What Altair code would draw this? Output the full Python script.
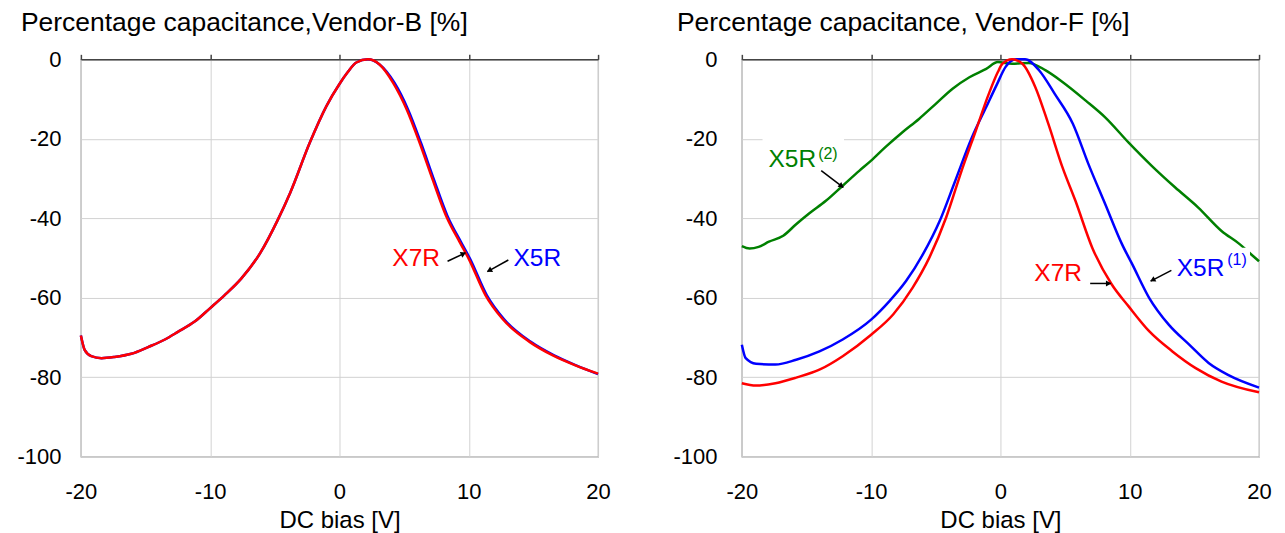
import math
import altair as alt
import pandas as pd

FONT = "Liberation Sans"

# ---------------- data: Vendor-B (left) ----------------
b_x7r_v = [-20, -19.7, -19.2, -18.4, -17.4, -16.1, -14.8, -13.5, -12.5, -11.2, -10.0, -8.9, -7.6,
           -6.1, -4.8, -3.8, -2.3, -1.0, 0.0, 0.6, 1.3, 2.2, 3.1, 4.15, 5.2, 6.2, 7.2, 8.25, 9.3,
           10.0, 11.3, 12.6, 14.7, 16.5, 18.25, 20.0]
b_x7r_c = [-69.5, -73.2, -74.7, -75.2, -74.9, -74.1, -72.4, -70.5, -68.6, -66.0, -62.6, -59.4, -55.2,
           -48.6, -40.6, -33.5, -21.0, -11.7, -6.2, -3.4, -0.8, 0.0, -1.3, -5.9, -12.6, -21.0, -30.2,
           -39.4, -46.0, -50.2, -59.4, -65.3, -71.1, -74.5, -77.0, -79.1]
b_x5r_v = [-20, -19.7, -19.2, -18.4, -17.4, -16.1, -14.8, -13.5, -12.5, -11.2, -10.0, -8.9, -7.6,
           -6.1, -4.8, -3.8, -2.3, -1.0, 0.0, 0.6, 1.3, 2.2, 3.1, 4.25, 5.3, 6.3, 7.3, 8.35, 9.4,
           10.1, 11.4, 12.7, 14.8, 16.6, 18.3, 20.0]
b_x5r_c = [-69.5, -73.2, -74.7, -75.2, -74.9, -74.1, -72.4, -70.5, -68.6, -66.0, -62.6, -59.4, -55.2,
           -48.6, -40.6, -33.5, -21.0, -11.7, -6.2, -3.4, -0.8, 0.0, -1.3, -5.9, -12.6, -21.0, -30.2,
           -39.4, -46.0, -50.2, -59.4, -65.3, -71.1, -74.5, -77.0, -79.2]

# ---------------- data: Vendor-F (right) ----------------
f_x5r1_v = [-20, -19.7, -18.9, -17.4, -15.8, -14.0, -12.2, -10.0, -8.6, -7.3, -6.0, -4.7, -3.5, -2.2,
            -1.1, -0.3, 0.4, 1.2, 1.9, 3.0, 4.2, 5.6, 6.8, 8.1, 9.4, 10.2, 11.5, 13.0, 14.6, 16.1,
            17.6, 20.0]
f_x5r1_c = [-71.8, -75.2, -76.6, -76.8, -75.6, -73.5, -70.5, -65.5, -60.9, -55.8, -49.1, -40.7, -30.6,
            -19.6, -12.0, -6.5, -1.9, 0.0, 0.0, -2.8, -8.7, -16.2, -26.3, -36.4, -46.5, -51.6, -60.0,
            -66.7, -71.8, -76.4, -79.4, -82.6]
f_x7r_v = [-20, -18.9, -17.4, -15.8, -14.0, -12.2, -10.0, -8.3, -6.8, -5.5, -4.2, -3.0, -1.9, -0.9,
           -0.2, 0.15, 0.9, 1.7, 2.7, 3.7, 4.8, 5.8, 7.1, 8.6, 9.9, 11.5, 13.3, 15.1, 17.1, 20.0]
f_x7r_c = [-81.5, -82.1, -81.5, -80.1, -78.1, -74.7, -69.3, -64.2, -57.5, -49.9, -39.8, -28.0, -17.9,
           -8.7, -3.2, -1.1, 0.0, -1.1, -7.0, -16.2, -27.2, -35.6, -47.4, -56.6, -62.1, -68.4, -73.5,
           -77.7, -81.1, -83.8]
f_x5r2_v = [-20, -19.4, -18.7, -17.9, -16.8, -15.8, -14.8, -13.5, -12.2, -10.9, -10.0, -8.9, -7.6,
            -6.3, -5.0, -3.7, -2.4, -1.1, -0.2, 0.9, 2.2, 3.5, 4.8, 6.6, 8.1, 9.9, 11.7, 13.5, 15.3,
            17.1, 18.5, 19.4, 20.0]
f_x5r2_c = [-47.0, -47.6, -47.2, -45.9, -44.4, -41.5, -38.8, -35.6, -31.8, -28.0, -25.5, -22.1, -18.4,
            -15.0, -11.2, -7.4, -4.5, -2.4, -0.7, -1.1, -0.9, -2.8, -5.7, -10.4, -14.6, -20.9, -26.8,
            -32.2, -37.3, -43.2, -46.5, -49.1, -50.8]

# ---------------- annotations ----------------
b_lbl_text = ["X7R", "X5R"]
b_lbl_x = [5.93, 15.3]
b_lbl_y = [-50.2, -50.3]
b_lbl_color = ["#ff0000", "#0000ff"]
b_arr_x = [8.36, 13.06]
b_arr_y = [-50.8, -50.5]
b_arr_x2 = [9.74, 11.44]
b_arr_y2 = [-48.7, -53.4]

f_lbl_text = ["X5R", "X7R", "X5R"]
f_lbl_x = [-16.1, 4.46, 15.48]
f_lbl_y = [-25.4, -54.1, -52.7]
f_lbl_color = ["#008000", "#ff0000", "#0000ff"]
f_sup_text = ["(2)", "(1)"]
f_sup_x = [-14.1, 17.54]
f_sup_y = [-23.7, -50.6]
f_sup_color = ["#008000", "#0000ff"]
f_arr_x = [-13.86, 6.94, 13.22]
f_arr_y = [-28.0, -56.4, -53.1]
f_arr_x2 = [-12.16, 8.53, 11.62]
f_arr_y2 = [-32.2, -56.4, -55.8]
# white label backgrounds (hide gridline / curve under the labels)
f_mask_x = [-18.4, 13.4]
f_mask_x2 = [-12.1, 19.3]
f_mask_y = [-19.2, -47.4]
f_mask_y2 = [-21.2, -58.0]

x_ticks = [-20, -10, 0, 10, 20]
y_ticks = [-100, -80, -60, -40, -20, 0]

W, H = 518, 398
PX_X = W / 40.0
PX_Y = H / 100.0

x_scale = alt.Scale(domain=[-20, 20], nice=False, zero=False)
y_scale = alt.Scale(domain=[-100, 0], nice=False, zero=False)
HYPHEN = "'' + datum.value"


def y_axis(label_pad):
    return alt.Axis(values=y_ticks, title=None, grid=True,
                    gridColor="#d2d2d2", domain=False, ticks=False,
                    labelFont=FONT, labelFontSize=22, labelColor="#000",
                    labelExpr=HYPHEN, labelPadding=label_pad)


def lines_df(items):
    frames = []
    for order, (name, v, c, color) in enumerate(items):
        frames.append(pd.DataFrame({"v": v, "c": c, "s": name, "col": color, "o": order}))
    return pd.concat(frames, ignore_index=True)


def arrows_df(x, y, x2, y2):
    rows = []
    for a, b, a2, b2 in zip(x, y, x2, y2):
        dxp = (a2 - a) * PX_X
        dyp = (b2 - b) * PX_Y
        ang = math.degrees(math.atan2(dxp, dyp)) % 360
        L = math.hypot(dxp, dyp)
        back = 3.0
        hx = a2 - (dxp / L) * back / PX_X
        hy = b2 - (dyp / L) * back / PX_Y
        rows.append({"x": a, "y": b, "x2": a2, "y2": b2, "hx": hx, "hy": hy, "ang": ang})
    return pd.DataFrame(rows)


def panel(title, line_items, lbl, arrows, sup=None, mask=None, label_pad=20):
    yax = y_axis(label_pad)

    def XN(f):
        return alt.X(f, scale=x_scale, axis=None)

    def YN(f):
        return alt.Y(f, scale=y_scale, axis=yax)

    df = lines_df(line_items)
    xb = alt.X("v:Q", scale=x_scale,
               axis=alt.Axis(values=x_ticks, title="DC bias [V]", grid=True,
                             gridColor="#d2d2d2", domain=False, ticks=False,
                             labelFont=FONT, labelFontSize=22, labelColor="#000",
                             labelExpr=HYPHEN,
                             labelPadding=25, titleFont=FONT, titleFontSize=24,
                             titleFontWeight="normal", titleColor="#000", titlePadding=6,
                             labelFlush=False))
    base_lines = alt.Chart(df).mark_line(strokeWidth=2.5, interpolate="monotone").encode(
        x=xb, y=YN("c:Q"),
        color=alt.Color("col:N", scale=None),
        detail="s:N",
        order="o:Q",
    )
    tdf = pd.DataFrame({"v": x_ticks, "c": [-50] * len(x_ticks)})
    top_axis = alt.Chart(tdf).mark_point(opacity=0).encode(
        x=alt.X("v:Q", scale=x_scale,
                axis=alt.Axis(orient="top", values=x_ticks, labels=False, title=None,
                              grid=False, ticks=True, tickSize=5, tickColor="#444",
                              tickWidth=1.5, domain=True, domainColor="#444", domainWidth=1.5)),
        y=YN("c:Q"),
    )
    layers = [base_lines]
    if mask is not None:
        mdf = pd.DataFrame({"x": mask[0], "x2": mask[1], "y": mask[2], "y2": mask[3]})
        layers.append(alt.Chart(mdf).mark_rect(color="white").encode(
            x=XN("x:Q"), x2="x2:Q", y=YN("y:Q"), y2="y2:Q"))
    ldf = pd.DataFrame({"x": lbl[0], "y": lbl[1], "t": lbl[2], "col": lbl[3]})
    layers.append(alt.Chart(ldf).mark_text(font=FONT, fontSize=24.5, align="center",
                                           baseline="middle").encode(
        x=XN("x:Q"), y=YN("y:Q"),
        text="t:N", color=alt.Color("col:N", scale=None)))
    if sup is not None:
        sdf = pd.DataFrame({"x": sup[0], "y": sup[1], "t": sup[2], "col": sup[3]})
        layers.append(alt.Chart(sdf).mark_text(font=FONT, fontSize=16, align="left",
                                               baseline="middle").encode(
            x=XN("x:Q"), y=YN("y:Q"),
            text="t:N", color=alt.Color("col:N", scale=None)))
    adf = arrows_df(*arrows)
    layers.append(alt.Chart(adf).mark_rule(color="black", strokeWidth=1.5).encode(
        x=XN("x:Q"), y=YN("y:Q"), x2="x2:Q", y2="y2:Q"))
    layers.append(alt.Chart(adf).mark_point(shape="triangle", filled=True, color="black",
                                            size=38, opacity=1).encode(
        x=XN("hx:Q"), y=YN("hy:Q"),
        angle=alt.Angle("ang:Q", scale=None)))
    layers.append(top_axis)
    return alt.layer(*layers).resolve_axis(x="independent").properties(
        width=W, height=H,
        title=alt.TitleParams(title, anchor="start", font=FONT, fontSize=26.5,
                              fontWeight="normal", color="#000", dx=4, offset=12),
    )


left = panel(
    "Percentage capacitance,Vendor-B [%]",
    [("X5R", b_x5r_v, b_x5r_c, "#0000ff"), ("X7R", b_x7r_v, b_x7r_c, "#ff0000")],
    (b_lbl_x, b_lbl_y, b_lbl_text, b_lbl_color),
    (b_arr_x, b_arr_y, b_arr_x2, b_arr_y2),
    label_pad=20,
)
right = panel(
    "Percentage capacitance, Vendor-F [%]",
    [("X5R2", f_x5r2_v, f_x5r2_c, "#008000"), ("X5R1", f_x5r1_v, f_x5r1_c, "#0000ff"),
     ("X7R", f_x7r_v, f_x7r_c, "#ff0000")],
    (f_lbl_x, f_lbl_y, f_lbl_text, f_lbl_color),
    (f_arr_x, f_arr_y, f_arr_x2, f_arr_y2),
    sup=(f_sup_x, f_sup_y, f_sup_text, f_sup_color),
    mask=(f_mask_x, f_mask_x2, f_mask_y, f_mask_y2),
    label_pad=25,
)

chart = alt.hconcat(left, right, spacing=144, bounds="flush").properties(
    padding={"left": 8, "top": 0, "right": 5, "bottom": 0}
).configure_view(stroke="#8c8c8c", strokeWidth=1.2)

chart.save("out.html", embed_options={"renderer": "svg", "actions": False})
